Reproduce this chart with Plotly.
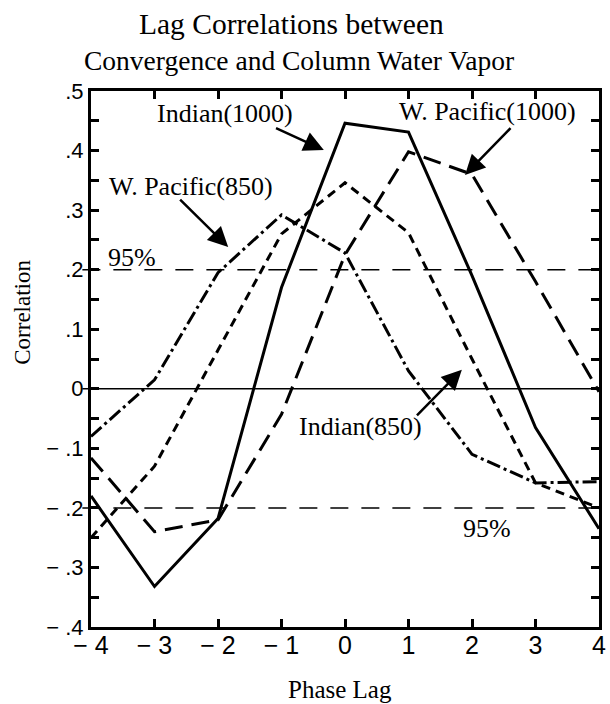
import plotly.graph_objects as go

# ---- data ----
lag = [-4, -3, -2, -1, 0, 1, 2, 3, 4]
indian_1000 = [-0.18, -0.332, -0.218, 0.17, 0.446, 0.431, 0.19, -0.065, -0.235]
wpac_1000 = [-0.116, -0.24, -0.22, -0.043, 0.225, 0.398, 0.36, 0.18, -0.005]
indian_850 = [-0.25, -0.13, 0.065, 0.26, 0.346, 0.262, 0.05, -0.158, -0.2]
wpac_850 = [-0.08, 0.015, 0.195, 0.292, 0.228, 0.03, -0.11, -0.158, -0.156]

y_tickvals = [0.5, 0.4, 0.3, 0.2, 0.1, 0, -0.1, -0.2, -0.3, -0.4]
y_ticktext = [".5", ".4", ".3", ".2", ".1", "0", "\u2212 .1", "\u2212 .2", "\u2212 .3", "\u2212 .4"]
x_tickvals = [-4, -3, -2, -1, 0, 1, 2, 3, 4]
x_ticktext = ["\u2212 4", "\u2212 3", "\u2212 2", "\u2212 1", "0", "1", "2", "3", "4"]
sig_level = 0.2

serif = "Liberation Serif, Times New Roman, serif"
sans = "Liberation Sans, Arial, sans-serif"

fig = go.Figure()

styles = [
    (indian_1000, "Indian(1000)", "solid"),
    (wpac_1000, "W. Pacific(1000)", "18px,9px"),
    (indian_850, "Indian(850)", "9px,6px"),
    (wpac_850, "W. Pacific(850)", "14px,4px,3px,4px"),
]
for vals, name, dash in styles:
    fig.add_trace(go.Scatter(x=lag, y=vals, mode="lines", name=name,
                             line=dict(color="black", width=3, dash=dash),
                             showlegend=False, hoverinfo="skip"))

# reference lines
for yv in (sig_level, -sig_level):
    fig.add_shape(type="line", xref="paper", yref="y", x0=-0.017, x1=1, y0=yv, y1=yv,
                  line=dict(color="black", width=1.5, dash="18px,13px"))
fig.add_shape(type="line", xref="paper", yref="y", x0=-0.017, x1=1, y0=0, y1=0,
              line=dict(color="black", width=1.5))

# arrows (head at x,y ; tail at ax,ay)
arrows = [
    (-0.334, 0.401, -1.11, 0.439),
    (-1.84, 0.238, -2.62, 0.32),
    (1.89, 0.359, 2.63, 0.44),
    (1.84, 0.032, 1.11, -0.047),
]
for x, y, ax, ay in arrows:
    fig.add_annotation(x=x, y=y, ax=ax, ay=ay, xref="x", yref="y", axref="x", ayref="y",
                       text="", showarrow=True, arrowhead=2, arrowsize=1.6,
                       arrowwidth=2.5, arrowcolor="black")

labels = [
    ("Indian(1000)", -1.89, 0.463),
    ("W. Pacific(850)", -2.42, 0.339),
    ("W. Pacific(1000)", 2.24, 0.465),
    ("Indian(850)", 0.24, -0.064),
    ("95%", -3.36, 0.221),
    ("95%", 2.23, -0.234),
]
for t, x, y in labels:
    fig.add_annotation(x=x, y=y, xref="x", yref="y", text=t, showarrow=False,
                       font=dict(family=serif, size=26, color="black"),
                       xanchor="center", yanchor="middle")

# axis titles as annotations
fig.add_annotation(x=-0.134, y=0.588, xref="paper", yref="paper", text="Correlation",
                   textangle=-90, showarrow=False, xanchor="center", yanchor="middle",
                   font=dict(family=serif, size=23, color="black"))
fig.add_annotation(x=0.491, y=-0.1175, xref="paper", yref="paper", text="Phase Lag",
                   showarrow=False, xanchor="center", yanchor="middle",
                   font=dict(family=serif, size=25, color="black"))

fig.update_layout(
    width=610, height=704,
    margin=dict(l=91, r=4, t=91, b=77),
    paper_bgcolor="white", plot_bgcolor="white",
    xaxis=dict(range=[-4, 4], tickvals=x_tickvals, ticktext=x_ticktext,
               showline=True, linewidth=3, linecolor="black", mirror="ticks",
               ticks="inside", ticklen=8, tickwidth=3, tickcolor="black",
               showgrid=False, zeroline=False, ticklabelstandoff=-6,
               ticklabeloverflow="allow",
               tickfont=dict(family=sans, size=25, color="black")),
    yaxis=dict(range=[-0.4, 0.5], tickvals=y_tickvals, ticktext=y_ticktext,
               showline=True, linewidth=3, linecolor="black", mirror="ticks",
               ticks="inside", ticklen=8, tickwidth=3, tickcolor="black",
               minor=dict(ticks="inside", ticklen=8, tickwidth=3, tickcolor="black",
                          dtick=0.05, tick0=0),
               showgrid=False, zeroline=False, ticklabelstandoff=0,
               tickfont=dict(family=sans, size=22, color="black")),
)

# title lines, placed by pixel centre (converted to paper coords of the plot box)
title_lines = [("Lag Correlations between", 294, 24, 29.5),
               ("Convergence and Column Water Vapor", 302, 60, 27.5)]
plot_l, plot_w, plot_t, plot_h = 91, 515, 91, 536
for text, cx, cy, size in title_lines:
    fig.add_annotation(x=(cx - plot_l) / plot_w, y=(plot_t + plot_h - cy) / plot_h,
                       xref="paper", yref="paper", text=text, showarrow=False,
                       xanchor="center", yanchor="middle",
                       font=dict(family=serif, size=size, color="black"))

fig.write_html("out.html")
